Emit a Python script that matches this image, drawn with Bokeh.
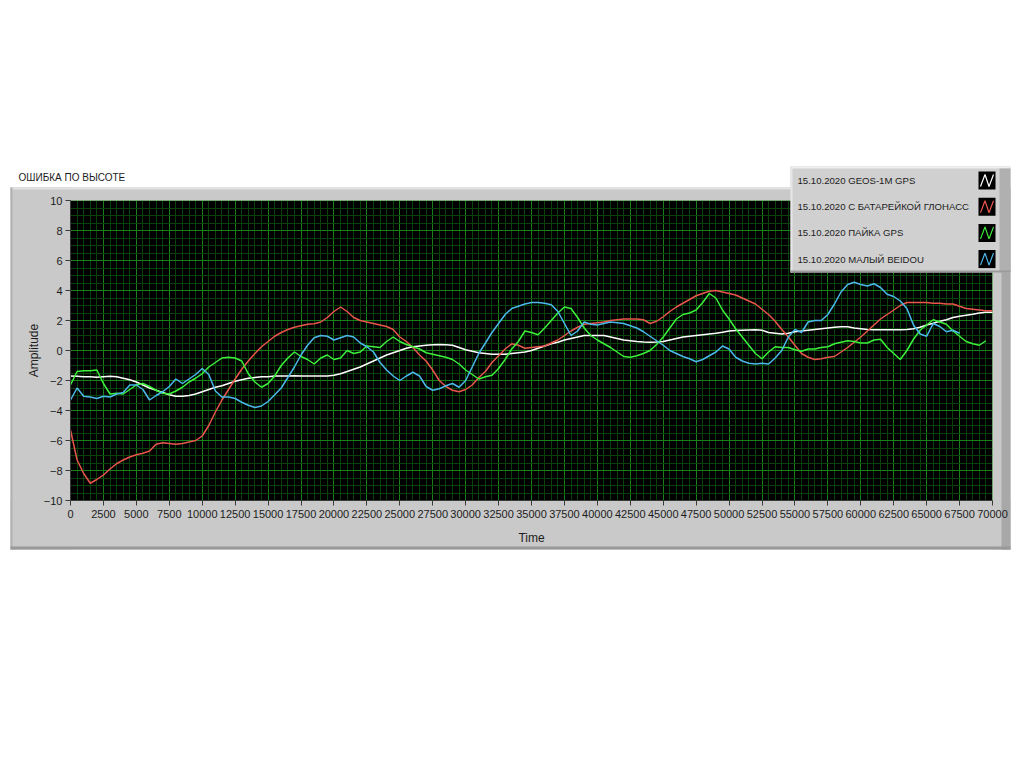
import numpy as np
from bokeh.plotting import figure
from bokeh.models import Range1d, SingleIntervalTicker, Label
from bokeh.embed import file_html
from bokeh.resources import INLINE

# ---------------- data ----------------
title_text = "ОШИБКА ПО ВЫСОТЕ"
series_names = ["15.10.2020 GEOS-1M GPS", "15.10.2020 С БАТАРЕЙКОЙ ГЛОНАСС",
                "15.10.2020 ПАЙКА GPS", "15.10.2020 МАЛЫЙ BEIDOU"]
series_colors = ["#ffffff", "#e8554c", "#3cf03c", "#4cb8ea"]

time = list(range(0, 70001, 500))

geos = [-1.70, -1.72, -1.75, -1.75, -1.78, -1.75, -1.72, -1.75, -1.85, -1.95,
        -2.10, -2.30, -2.50, -2.65, -2.80, -2.95, -3.05, -3.05, -3.00, -2.90,
        -2.75, -2.60, -2.45, -2.35, -2.20, -2.05, -1.95, -1.85, -1.80, -1.75,
        -1.75, -1.70, -1.70, -1.70, -1.68, -1.70, -1.70, -1.70, -1.70, -1.70,
        -1.65, -1.55, -1.40, -1.25, -1.10, -0.90, -0.70, -0.50, -0.30, -0.15,
        0.00, 0.15, 0.25, 0.30, 0.35, 0.38, 0.40, 0.38, 0.35, 0.20,
        0.05, -0.05, -0.15, -0.20, -0.25, -0.25, -0.25, -0.20, -0.15, -0.10,
        0.00, 0.15, 0.30, 0.45, 0.55, 0.70, 0.80, 0.90, 1.00, 1.00,
        1.00, 1.00, 0.90, 0.80, 0.70, 0.65, 0.60, 0.57, 0.55, 0.57,
        0.60, 0.70, 0.80, 0.90, 0.95, 1.00, 1.05, 1.10, 1.15, 1.22,
        1.30, 1.33, 1.35, 1.37, 1.38, 1.35, 1.20, 1.15, 1.10, 1.15,
        1.25, 1.30, 1.35, 1.40, 1.45, 1.50, 1.55, 1.58, 1.58, 1.50,
        1.45, 1.40, 1.38, 1.38, 1.38, 1.38, 1.38, 1.40, 1.45, 1.55,
        1.70, 1.82, 1.95, 2.05, 2.20, 2.28, 2.35, 2.42, 2.50, 2.55,
        2.55]

glonass = [-5.30, -7.30, -8.20, -8.85, -8.60, -8.30, -7.90, -7.55, -7.30, -7.10,
           -6.95, -6.85, -6.70, -6.25, -6.15, -6.20, -6.25, -6.20, -6.10, -6.00,
           -5.70, -5.00, -4.10, -3.30, -2.60, -1.90, -1.25, -0.70, -0.20, 0.25,
           0.60, 0.95, 1.20, 1.40, 1.55, 1.65, 1.75, 1.78, 1.90, 2.20,
           2.60, 2.90, 2.60, 2.20, 2.00, 1.90, 1.80, 1.70, 1.60, 1.40,
           0.90, 0.60, 0.20, -0.30, -0.70, -1.30, -2.00, -2.40, -2.65, -2.75,
           -2.60, -2.30, -1.80, -1.40, -0.80, -0.35, 0.10, 0.45, 0.35, 0.15,
           0.20, 0.25, 0.30, 0.50, 0.70, 1.00, 1.30, 1.55, 1.75, 1.80,
           1.85, 1.90, 2.00, 2.05, 2.10, 2.10, 2.10, 2.05, 1.80, 1.95,
           2.25, 2.60, 2.90, 3.15, 3.40, 3.65, 3.80, 3.95, 4.00, 3.90,
           3.80, 3.70, 3.50, 3.30, 3.10, 2.75, 2.40, 1.95, 1.40, 0.90,
           0.35, -0.20, -0.45, -0.60, -0.55, -0.45, -0.40, -0.10, 0.20, 0.55,
           0.90, 1.30, 1.70, 2.10, 2.40, 2.70, 3.00, 3.20, 3.20, 3.20,
           3.20, 3.15, 3.15, 3.10, 3.10, 2.95, 2.80, 2.75, 2.70, 2.65,
           2.65]

payka = [-2.30, -1.40, -1.35, -1.35, -1.30, -2.20, -2.90, -2.85, -2.90, -2.60,
         -2.30, -2.20, -2.40, -2.65, -2.85, -2.90, -2.70, -2.45, -2.10, -1.85,
         -1.55, -1.10, -0.80, -0.50, -0.45, -0.50, -0.70, -1.55, -2.10, -2.45,
         -2.20, -1.70, -1.00, -0.50, -0.10, -0.40, -0.60, -0.90, -0.50, -0.30,
         -0.60, -0.50, 0.00, -0.20, -0.10, 0.30, 0.25, 0.20, 0.60, 0.90,
         0.60, 0.40, 0.25, 0.10, -0.15, -0.25, -0.35, -0.45, -0.60, -0.90,
         -1.30, -1.60, -1.90, -1.75, -1.65, -1.20, -0.60, 0.10, 0.60, 1.30,
         1.20, 1.05, 1.50, 2.00, 2.50, 2.90, 2.80, 2.20, 1.50, 1.00,
         0.70, 0.45, 0.20, -0.10, -0.40, -0.45, -0.35, -0.20, 0.00, 0.40,
         0.90, 1.50, 2.10, 2.40, 2.50, 2.70, 3.20, 3.80, 3.50, 2.70,
         2.10, 1.45, 0.90, 0.35, -0.20, -0.55, -0.10, 0.25, 0.20, 0.20,
         0.05, -0.05, 0.10, 0.10, 0.20, 0.25, 0.45, 0.55, 0.65, 0.60,
         0.50, 0.50, 0.70, 0.75, 0.20, -0.20, -0.60, 0.00, 0.75, 1.35,
         1.70, 2.05, 1.90, 1.75, 1.30, 0.95, 0.60, 0.45, 0.35, 0.65,
         None]

beidou = [-3.30, -2.50, -3.05, -3.10, -3.20, -3.05, -3.10, -2.90, -2.80, -2.30,
          -2.30, -2.60, -3.30, -3.00, -2.75, -2.40, -1.90, -2.20, -1.90, -1.60,
          -1.20, -1.60, -2.70, -3.10, -3.10, -3.20, -3.45, -3.65, -3.80, -3.70,
          -3.40, -2.95, -2.50, -1.80, -1.10, -0.30, 0.35, 0.85, 1.00, 0.95,
          0.70, 0.85, 1.00, 0.90, 0.50, 0.25, -0.10, -0.80, -1.30, -1.70,
          -2.00, -1.70, -1.45, -1.70, -2.40, -2.65, -2.55, -2.35, -2.20, -2.45,
          -2.00, -1.10, -0.20, 0.50, 1.20, 1.80, 2.40, 2.80, 2.95, 3.10,
          3.20, 3.20, 3.15, 3.05, 2.60, 1.80, 1.00, 1.30, 1.90, 1.75,
          1.70, 1.80, 1.90, 1.85, 1.80, 1.65, 1.50, 1.25, 0.95, 0.65,
          0.35, 0.00, -0.20, -0.40, -0.55, -0.75, -0.60, -0.35, -0.10, 0.30,
          0.10, -0.45, -0.70, -0.85, -0.90, -0.85, -0.90, -0.50, 0.00, 0.90,
          1.40, 1.20, 1.90, 2.00, 2.00, 2.40, 3.10, 3.90, 4.40, 4.55,
          4.40, 4.30, 4.45, 4.20, 3.75, 3.60, 3.30, 2.80, 1.70, 1.10,
          0.95, 1.80, 1.60, 1.25, 1.35, 1.15, None, None, None, None,
          None]

series = [geos, glonass, payka, beidou]

x_min, x_max = 0, 70000
y_min, y_max = -10, 10

# ---------------- page geometry (pixels) ----------------
W, H = 1016, 600
PX0, PX1 = 70, 992      # page x of x_min / x_max
PY0, PY1 = 200, 500     # page y of y_max / y_min


def dx(px):
    return x_min + (px - PX0) * (x_max - x_min) / (PX1 - PX0)


def dy(py):
    return y_max - (py - PY0) * (y_max - y_min) / (PY1 - PY0)


FONT = "Liberation Sans"
TXT = "#1c1c1c"
PANEL = "#c9c9c9"

p = figure(width=W, height=H, output_backend="svg", toolbar_location=None,
           x_range=Range1d(dx(0), dx(W)), y_range=Range1d(dy(H), dy(0)),
           min_border=0, min_border_left=0, min_border_right=0,
           min_border_top=0, min_border_bottom=0,
           x_axis_label="Time", y_axis_label="Amplitude")
p.background_fill_color = "white"
p.border_fill_color = "white"
p.outline_line_color = None

# black plotting area (drawn below the grid)
p.quad(left=[x_min], right=[x_max], bottom=[y_min], top=[y_max],
       fill_color="black", line_color=None, level="image")

xt = SingleIntervalTicker(interval=2500, num_minor_ticks=5)
yt = SingleIntervalTicker(interval=2, num_minor_ticks=4)
p.xaxis.ticker = xt
p.yaxis.ticker = yt
p.xgrid.ticker = xt
p.ygrid.ticker = yt
p.xgrid.bounds = (x_min, x_max)
p.ygrid.bounds = (y_min, y_max)
try:
    p.xgrid.cross_bounds = (y_min, y_max)
    p.ygrid.cross_bounds = (x_min, x_max)
except Exception:
    pass
for g in (p.xgrid, p.ygrid):
    g.grid_line_color = "#16801a"
    g.grid_line_width = 1
    g.minor_grid_line_color = "#0a420c"
    g.minor_grid_line_width = 1

p.xaxis.fixed_location = y_min
p.yaxis.fixed_location = x_min
p.xaxis.bounds = (x_min, x_max)
p.yaxis.bounds = (y_min, y_max)
for ax in (p.xaxis, p.yaxis):
    ax.axis_line_color = "#3a3a3a"
    ax.major_tick_line_color = "#3a3a3a"
    ax.minor_tick_line_color = None
    ax.major_tick_in = 0
    ax.major_tick_out = 5
    ax.major_label_text_font = FONT
    ax.major_label_text_font_size = "11px"
    ax.major_label_text_color = TXT
    ax.axis_label_text_font = FONT
    ax.axis_label_text_font_size = "12px"
    ax.axis_label_text_font_style = "normal"
    ax.axis_label_text_color = TXT
p.yaxis.major_label_standoff = 3
p.yaxis.axis_label_standoff = 0
p.xaxis.major_label_standoff = 4
p.xaxis.axis_label_standoff = 10

# grey panel around the plotting area + white page outside it
cover = [  # (left, right, top, bottom) page px, colour
    (-60, W + 60, -60, 187, "white"),
    (-60, W + 60, 549, H + 60, "white"),
    (-60, 10, -60, H + 60, "white"),
    (1010, W + 60, -60, H + 60, "white"),
    (10, 1010, 187, 200, PANEL),
    (10, 1010, 500, 549, PANEL),
    (10, 70, 187, 549, PANEL),
    (992, 1010, 187, 549, PANEL),
    (10, 1010, 187, 189, "#e2e2e2"),
    (10, 12, 187, 549, "#b2b2b2"),
    (1001, 1010, 189, 549, "#a8a8a8"),
    (10, 1010, 546, 549, "#999999"),
]
p.quad(left=[dx(c[0]) for c in cover], right=[dx(c[1]) for c in cover],
       top=[dy(c[2]) for c in cover], bottom=[dy(c[3]) for c in cover],
       fill_color=[c[4] for c in cover], line_color=None)

# data lines
for vals, col in zip(series, series_colors):
    arr = np.array([np.nan if v is None else v for v in vals], dtype=float)
    p.line(time[:len(arr)], arr, line_color=col, line_width=1.5)

# title
p.add_layout(Label(x=dx(18), y=dy(177), text=title_text, text_font=FONT,
                   text_font_size="10px", text_color=TXT,
                   text_baseline="middle", text_align="left"))

# legend
leg = [
    (790, 1010, 166, 272, "#d0d0d0"),
    (790, 1010, 166, 168, "#eeeeee"),
    (790, 792, 166, 272, "#e6e6e6"),
    (999, 1010, 168, 272, "#b0b0b0"),
    (790, 1010, 270, 272, "#9a9a9a"),
]
row_y = [180 + 26.2 * i for i in range(len(series_names))]
for cy in row_y:
    leg.append((978, 995, cy - 9, cy + 9, "black"))
p.quad(left=[dx(c[0]) for c in leg], right=[dx(c[1]) for c in leg],
       top=[dy(c[2]) for c in leg], bottom=[dy(c[3]) for c in leg],
       fill_color=[c[4] for c in leg], line_color=None)
for name, col, cy in zip(series_names, series_colors, row_y):
    p.add_layout(Label(x=dx(797), y=dy(cy), text=name, text_font=FONT,
                       text_font_size="9.6px", text_color=TXT,
                       text_baseline="middle", text_align="left"))
    p.line([dx(980), dx(984.5), dx(988.5), dx(993)],
           [dy(cy + 6), dy(cy - 6), dy(cy + 6), dy(cy - 6)],
           line_color=col, line_width=1.2)

open("out.html", "w").write(file_html(p, INLINE))
